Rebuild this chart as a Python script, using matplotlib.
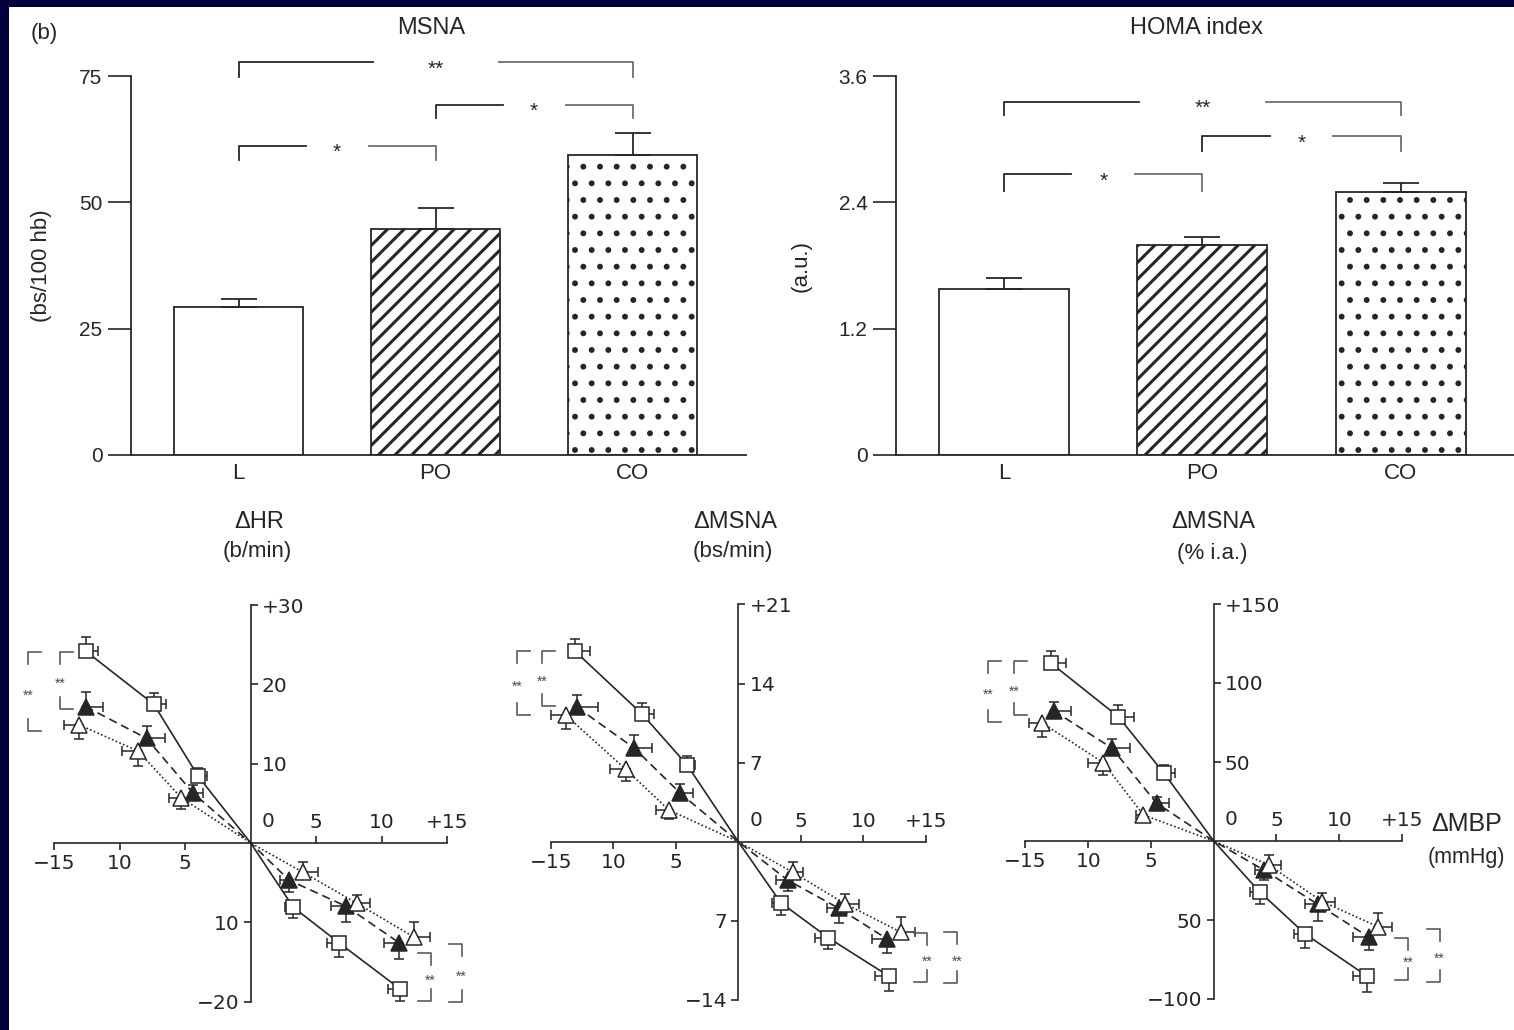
import numpy as np
import matplotlib.pyplot as plt
from matplotlib.patches import Rectangle

plt.rcParams['font.family'] = ['Liberation Sans', 'DejaVu Sans']

W, H = 1514, 1030
INK = '#262626'

# ---- top row: bar charts (mean + SEM) ----
groups = ['L', 'PO', 'CO']
msna_mean = [29.2, 44.8, 59.4]
msna_sem = [1.6, 4.0, 4.3]
homa_mean = [1.58, 1.99, 2.50]
homa_sem = [0.105, 0.085, 0.085]
msna_ticks = [0, 25, 50, 75]
msna_ticklabels = ['0', '25', '50', '75']
homa_ticks = [0, 1.2, 2.4, 3.6]
homa_ticklabels = ['0', '1.2', '2.4', '3.6']
comparisons = [(0, 2, '**'), (1, 2, '*'), (0, 1, '*')]

# ---- bottom row: baroreflex curves, x = dMBP (mmHg) ----
# series: open squares (solid), filled triangles (dashed), open triangles (dotted)
hr_sq_x = [-12.6, -7.4, -4.0, 0, 3.25, 6.75, 11.4]
hr_sq_y = [24.2, 17.5, 8.4, 0, -8.1, -12.6, -18.4]
hr_sq_xe = [0.95, 0.9, 0.7, 0, 0.65, 0.95, 0.9]
hr_sq_ye = [1.8, 1.4, 1.0, 0, 1.4, 1.8, 1.5]
hr_ft_x = [-12.6, -7.95, -4.4, 0, 2.95, 7.3, 11.35]
hr_ft_y = [17.2, 13.2, 6.3, 0, -4.7, -8.0, -12.6]
hr_ft_xe = [1.3, 1.4, 0.75, 0, 0.7, 1.15, 1.2]
hr_ft_ye = [1.9, 1.55, 1.0, 0, 1.5, 2.0, 2.0]
hr_ot_x = [-13.1, -8.6, -5.3, 0, 4.0, 8.1, 12.5]
hr_ot_y = [14.9, 11.6, 5.7, 0, -3.7, -7.6, -11.9]
hr_ot_xe = [1.15, 1.2, 0.97, 0, 1.15, 0.97, 1.2]
hr_ot_ye = [1.8, 1.9, 1.35, 0, 1.25, 1.05, 2.0]

bs_sq_x = [-13.1, -7.7, -4.1, 0, 3.4, 7.2, 12.05]
bs_sq_y = [16.9, 11.3, 6.8, 0, -5.4, -8.5, -11.9]
bs_sq_xe = [1.25, 0.93, 0.6, 0, 0.67, 1.07, 1.12]
bs_sq_ye = [1.0, 1.0, 0.8, 0, 1.06, 1.03, 1.33]
bs_ft_x = [-12.9, -8.35, -4.65, 0, 3.95, 8.05, 11.9]
bs_ft_y = [11.9, 8.3, 4.3, 0, -3.4, -5.9, -8.6]
bs_ft_xe = [1.65, 1.44, 1.0, 0, 0.9, 0.93, 1.17]
bs_ft_ye = [1.12, 1.1, 0.8, 0, 1.0, 1.27, 1.24]
bs_ot_x = [-13.8, -9.0, -5.55, 0, 4.35, 8.55, 13.0]
bs_ot_y = [11.2, 6.4, 2.8, 0, -2.7, -5.5, -8.0]
bs_ot_xe = [1.15, 1.23, 1.0, 0, 0.85, 1.07, 1.15]
bs_ot_ye = [1.27, 1.03, 0.83, 0, 0.88, 0.91, 1.33]

ia_sq_x = [-13.0, -7.6, -3.95, 0, 3.65, 7.3, 12.2]
ia_sq_y = [112.8, 78.7, 42.8, 0, -32.1, -58.9, -85.4]
ia_sq_xe = [1.27, 1.21, 0.85, 0, 0.73, 0.93, 1.13]
ia_sq_ye = [7.6, 7.4, 5.3, 0, 7.8, 8.6, 9.9]
ia_ft_x = [-12.75, -8.1, -4.55, 0, 4.0, 8.3, 12.4]
ia_ft_y = [82.5, 58.7, 23.9, 0, -18.4, -40.1, -61.0]
ia_ft_xe = [1.4, 1.4, 1.0, 0, 0.7, 1.04, 1.3]
ia_ft_ye = [5.7, 5.7, 4.0, 0, 6.3, 10.5, 8.0]
ia_ot_x = [-13.7, -8.8, -5.6, 0, 4.4, 8.65, 13.1]
ia_ot_y = [74.9, 49.6, 16.5, 0, -15.2, -38.4, -54.2]
ia_ot_xe = [1.04, 1.21, 0.6, 0, 0.93, 0.99, 1.13]
ia_ot_ye = [8.9, 7.8, 3.6, 0, 6.3, 5.7, 8.4]

mbp_ticks_neg = [-15, -10, -5]
mbp_labels_neg = ['\u221215', '10', '5']
mbp_ticks_pos = [5, 10, 15]
mbp_labels_pos = ['5', '10', '+15']


fig = plt.figure(figsize=(W / 100, H / 100), dpi=100, facecolor='#00003d')
fig.add_artist(Rectangle((9 / W, 0), 1, 1 - 7 / H, transform=fig.transFigure,
                         facecolor='white', edgecolor='none', zorder=-1))


def px_rect(left, top, right, bottom):
    return [left / W, 1 - bottom / H, (right - left) / W, (bottom - top) / H]


def fig_text(x, y, s, **kw):
    fig.text(x / W, 1 - y / H, s, ha='center', va='center', color=INK, **kw)


def top_bracket(ax, x1, x2, y, drop, text):
    mid = (x1 + x2) / 2
    gap = 0.16 * (x2 - x1)
    ax.plot([x1, x1, mid - gap], [y - drop, y, y], color=INK, lw=1.3, clip_on=False)
    ax.plot([mid + gap, x2, x2], [y, y, y - drop], color='#6e6e6e', lw=1.3, clip_on=False)
    ax.annotate(text, (mid, y), xytext=(0, -9), textcoords='offset points',
                ha='center', va='baseline', fontsize=15, color=INK, annotation_clip=False)


def bar_panel(rect, xlim, means, sems, ticks, ticklabels, ymax, ylabel, label_x, brackets):
    ax = fig.add_axes(rect)
    ax.set_facecolor('none')
    x = np.arange(len(groups))
    hatches = [None, '//', '.']
    hatch_lw = [1.0, 2.2, 1.8]
    for i in x:
        with plt.rc_context({'hatch.linewidth': hatch_lw[i]}):
            bars = ax.bar(x[i], means[i], width=0.655, facecolor='white', edgecolor=INK,
                          linewidth=1.3, hatch=hatches[i], zorder=2)
            for b in bars:
                if hasattr(b, 'set_hatch_linewidth'):
                    b.set_hatch_linewidth(hatch_lw[i])
    ax.errorbar(x, means, yerr=[np.zeros(len(x)), sems], fmt='none', ecolor=INK,
                elinewidth=1.3, capsize=13, capthick=1.3, zorder=3)
    ax.set_xlim(*xlim)
    ax.set_ylim(0, ymax)
    ax.spines[['top', 'right']].set_visible(False)
    for s in ['left', 'bottom']:
        ax.spines[s].set_linewidth(1.3)
        ax.spines[s].set_color(INK)
    ax.set_yticks(ticks, ticklabels)
    ax.set_xticks(x, groups)
    ax.tick_params(axis='y', length=16.5, width=1.2, pad=4, labelsize=15, colors=INK)
    ax.tick_params(axis='x', length=0, pad=6, labelsize=16, colors=INK)
    ax.set_ylabel(ylabel, fontsize=16, color=INK)
    ax.yaxis.set_label_coords(label_x, 0.5)
    for (i, j, txt), (y, drop) in zip(comparisons, brackets):
        top_bracket(ax, x[i], x[j], y, drop, txt)
    return ax


bar_panel(px_rect(131, 76, 746, 455), (-0.546, 2.576), msna_mean, msna_sem,
          msna_ticks, msna_ticklabels, 75, '(bs/100 hb)', -0.128,
          [(77.8, 3.0), (69.3, 2.7), (61.2, 2.9)])
bar_panel(px_rect(896, 76, 1514, 455), (-0.545, 2.572), homa_mean, homa_sem,
          homa_ticks, homa_ticklabels, 3.6, '(a.u.)', -0.136,
          [(3.355, 0.13), (3.029, 0.145), (2.667, 0.155)])

fig_text(44, 34, '(b)', fontsize=16)
fig_text(431, 28, 'MSNA', fontsize=17)
fig_text(1196, 28, 'HOMA index', fontsize=17)


# ---- bottom row ----
def one_sided(vals, errs, away):
    vals = np.asarray(vals, float)
    errs = np.asarray(errs, float)
    pos = vals > 0
    if away:
        return [np.where(pos, 0, errs), np.where(pos, errs, 0)]
    return [np.where(pos, errs, 0), np.where(pos, 0, errs)]


STYLES = [
    dict(marker='s', ms=10, mfc='white', ls='-', y_away=True),
    dict(marker='^', ms=11, mfc=INK, ls=(0, (5, 3)), y_away=True),
    dict(marker='^', ms=11, mfc='white', ls=(0, (1, 1.4)), y_away=False),
]


def side_bracket(ax, x, y_top, y_bot, arm, seg):
    kw = dict(color='#5a5a5a', lw=1.2, clip_on=False)
    ax.plot([x + arm, x, x], [y_top, y_top, y_top - seg], **kw)
    ax.plot([x, x, x + arm], [y_bot + seg, y_bot, y_bot], **kw)
    ax.annotate('**', (x, (y_top + y_bot) / 2), xytext=(0, -5.6), textcoords='offset points',
                ha='center', va='baseline', fontsize=10, color='#4a4a4a', annotation_clip=False)


def cross_panel(origin, scale, xlim, ylim, ybound, yt_pos, yl_pos, yt_neg, yl_neg,
                series, brackets):
    ox, oy = origin
    sx, sy = scale
    rect = px_rect(ox + xlim[0] * sx, oy - ylim[1] * sy, ox + xlim[1] * sx, oy - ylim[0] * sy)
    ax = fig.add_axes(rect)
    ax.set_facecolor('none')
    ax.set_xlim(*xlim)
    ax.set_ylim(*ylim)
    for s in ['left', 'right', 'bottom', 'top']:
        ax.spines[s].set_position(('data', 0))
        ax.spines[s].set_linewidth(1.2)
        ax.spines[s].set_color(INK)
    ax.spines['right'].set_visible(False)
    ax.spines['top'].set_visible(False)
    ax.spines['bottom'].set_bounds(-15, 15)
    ax.spines['left'].set_bounds(*ybound)

    ax.set_xticks(mbp_ticks_neg, mbp_labels_neg)
    ax.set_xticks(mbp_ticks_pos, mbp_labels_pos, minor=True)
    ax.set_yticks(yt_neg, yl_neg)
    ax.set_yticks(yt_pos, yl_pos, minor=True)
    common = dict(direction='out', length=5, width=1.2, labelsize=14.5, colors=INK, pad=3,
                  labelfontfamily='DejaVu Sans')
    ax.tick_params(axis='x', which='major', bottom=True, top=False,
                   labelbottom=True, labeltop=False, **common)
    ax.tick_params(axis='x', which='minor', bottom=False, top=True,
                   labelbottom=False, labeltop=True, **common)
    ax.tick_params(axis='y', which='major', left=True, right=False,
                   labelleft=True, labelright=False, **common)
    ax.tick_params(axis='y', which='minor', left=False, right=True,
                   labelleft=False, labelright=True, **common)
    ax.annotate('0', (0, 0), xytext=(12.5, 15.5), textcoords='offset points',
                ha='center', va='center', fontsize=14.5, color=INK, family='DejaVu Sans')

    for (x, y, xe, ye), st in zip(series, STYLES):
        x = np.asarray(x, float)
        y = np.asarray(y, float)
        m = x != 0
        ax.plot(x, y, color=INK, lw=1.2, ls=st['ls'], zorder=1)
        ax.errorbar(x[m], y[m],
                    xerr=one_sided(x[m], np.asarray(xe)[m], not st['y_away']),
                    yerr=one_sided(y[m], np.asarray(ye)[m], st['y_away']),
                    fmt='none', ecolor=INK, elinewidth=1.1, capsize=3.5, capthick=1.1, zorder=2)
        ax.plot(x[m], y[m], ls='none', marker=st['marker'], ms=st['ms'], mfc=st['mfc'],
                mec=INK, mew=1.1, zorder=3)

    arm, seg = 13 / sx, 12 / sy
    for bx, y_top, y_bot in brackets:
        side_bracket(ax, bx, y_top, y_bot, arm if bx < 0 else -arm, seg)
    return ax


cross_panel((250.7, 843), (13.1, 7.93), (-18.5, 17.5), (-22, 32), (-20, 30),
            [10, 20, 30], ['10', '20', '+30'], [-10, -20], ['10', '\u221220'],
            [(hr_sq_x, hr_sq_y, hr_sq_xe, hr_sq_ye),
             (hr_ft_x, hr_ft_y, hr_ft_xe, hr_ft_ye),
             (hr_ot_x, hr_ot_y, hr_ot_xe, hr_ot_ye)],
            [(-17.0, 24.1, 14.1), (-14.55, 24.1, 16.9), (13.74, -13.9, -19.9), (16.1, -12.7, -20.0)])

cross_panel((738.3, 841.7), (12.5, 11.3), (-19, 19), (-15.5, 22.5), (-14, 21),
            [7, 14, 21], ['7', '14', '+21'], [-7, -14], ['7', '\u221214'],
            [(bs_sq_x, bs_sq_y, bs_sq_xe, bs_sq_ye),
             (bs_ft_x, bs_ft_y, bs_ft_xe, bs_ft_ye),
             (bs_ot_x, bs_ot_y, bs_ot_xe, bs_ot_ye)],
            [(-17.7, 16.9, 11.2), (-15.7, 16.9, 12.0), (15.1, -8.1, -12.4), (17.5, -8.0, -12.5)])

cross_panel((1213.7, 841), (12.55, 1.58), (-19.5, 19.5), (-110, 160), (-100, 150),
            [50, 100, 150], ['50', '100', '+150'], [-50, -100], ['50', '\u2212100'],
            [(ia_sq_x, ia_sq_y, ia_sq_xe, ia_sq_ye),
             (ia_ft_x, ia_ft_y, ia_ft_xe, ia_ft_ye),
             (ia_ot_x, ia_ot_y, ia_ot_xe, ia_ot_ye)],
            [(-17.96, 113.9, 75.5), (-15.9, 113.9, 79.7), (15.5, -61.6, -88.0), (18.0, -55.9, -89.0)])

fig_text(259, 522, '\u0394HR', fontsize=17)
fig_text(257, 552, '(b/min)', fontsize=16)
fig_text(735, 522, '\u0394MSNA', fontsize=17)
fig_text(733, 552, '(bs/min)', fontsize=16)
fig_text(1213, 522, '\u0394MSNA', fontsize=17)
fig_text(1212, 553, '(% i.a.)', fontsize=16)
fig_text(1467, 824, '\u0394MBP', fontsize=18)
fig_text(1466, 858, '(mmHg)', fontsize=15.5)

fig.savefig('out.png', dpi=100, facecolor=fig.get_facecolor())
